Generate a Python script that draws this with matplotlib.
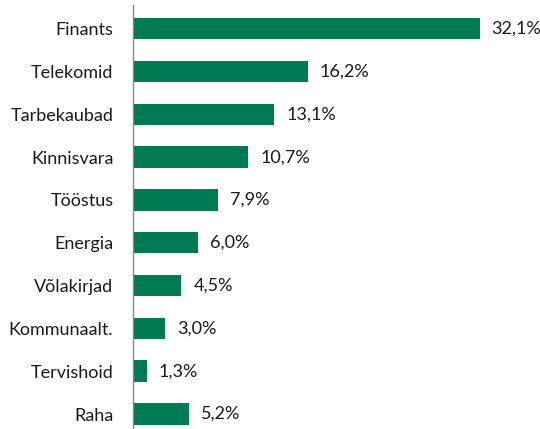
import matplotlib.pyplot as plt

# Sektorite jaotus (%)
sektorid = ["Finants", "Telekomid", "Tarbekaubad", "Kinnisvara", "Tööstus",
            "Energia", "Võlakirjad", "Kommunaalt.", "Tervishoid", "Raha"]
osakaal = [32.1, 16.2, 13.1, 10.7, 7.9, 6.0, 4.5, 3.0, 1.3, 5.2]

roheline = '#007A53'

plt.rcParams['font.family'] = ['Lato', 'DejaVu Sans']

fig = plt.figure(figsize=(5.4, 4.29), dpi=100)
ax = fig.add_axes([0.246, 0.0, 0.70, 0.988])

y = list(range(len(sektorid)))
ax.barh(y, osakaal, height=0.5, color=roheline)

for yi, v in zip(y, osakaal):
    ax.text(v + 1.1, yi, f"{v:.1f}%".replace('.', ','), va='center', ha='left',
            fontsize=13, color='#1a1a1a')

ax.set_yticks(y)
ax.set_yticklabels(sektorid, fontsize=13, color='#1a1a1a')
ax.set_ylim(9.35, -0.55)
ax.set_xlim(0, 35)
ax.set_xticks([])
ax.tick_params(axis='y', length=0, pad=14)
for s in ['top', 'right', 'bottom']:
    ax.spines[s].set_visible(False)
ax.spines['left'].set_color('#888888')
ax.spines['left'].set_linewidth(1)

fig.savefig('out.png', dpi=100)
